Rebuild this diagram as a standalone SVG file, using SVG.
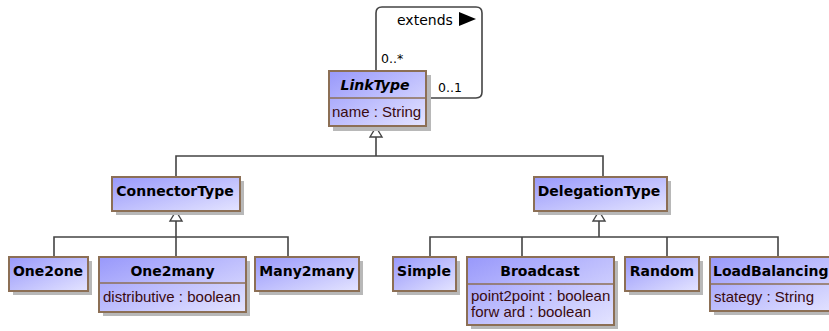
<svg xmlns="http://www.w3.org/2000/svg" width="829" height="331" viewBox="0 0 829 331">
<defs>
<linearGradient id="g" x1="0" y1="0" x2="1" y2="1">
<stop offset="0" stop-color="#9898fb"/>
<stop offset="1" stop-color="#e4e4ff"/>
</linearGradient>
</defs>
<style>
.sh{fill:#b8b8b8}
.box{fill:url(#g);stroke:#8c6f55;stroke-width:2}
.div{stroke:#8c6f55;stroke-width:1.5}
.hd{font-family:"DejaVu Sans",sans-serif;font-weight:bold;font-size:14px;fill:#000}
.at{font-family:"Liberation Sans",Arial,sans-serif;font-size:15px;fill:#3a0a10}
.lb{font-family:"DejaVu Sans",sans-serif;font-size:12.5px;fill:#000}
.ln{fill:none;stroke:#444;stroke-width:1.6}
.tri{fill:#fff;stroke:#444;stroke-width:1.4}
</style>
<g id="connectors">
<path class="ln" d="M376,70 V13 Q376,7 382,7 H476 Q482,7 482,13 V92 Q482,98 476,98 H427"/>
<text class="lb" x="397" y="25" style="font-size:14px">extends</text>
<path d="M459,12 L476,19 L459,26 Z" fill="#000"/>
<text class="lb" x="381" y="63">0..*</text>
<text class="lb" x="438" y="92">0..1</text>
<path class="ln" d="M176,177 V156 H603 V177"/>
<path class="ln" d="M376,156 V137"/>
<path class="tri" d="M376,127 L382,137 L370,137 Z"/>
<path class="ln" d="M54,257 V237 H288 V257"/>
<path class="ln" d="M176,257 V221"/>
<path class="tri" d="M176,211 L182,221 L170,221 Z"/>
<path class="ln" d="M430,257 V237 H778 V257 M522,237 V257 M667,237 V257"/>
<path class="ln" d="M599,237 V221"/>
<path class="tri" d="M599,211 L605,221 L593,221 Z"/>
</g>
<g id="LinkType">
<rect class="sh" x="333" y="75" width="98" height="56"/>
<rect class="box" x="329" y="71" width="97" height="55"/>
<line class="div" x1="329" y1="98" x2="426" y2="98"/>
<text class="hd" x="375" y="90" text-anchor="middle" font-style="italic">LinkType</text>
<text class="at" x="332" y="117">name : String</text>
</g>
<g id="ConnectorType">
<rect class="sh" x="116" y="181" width="128" height="34"/>
<rect class="box" x="112" y="177" width="128" height="34"/>
<text class="hd" x="175" y="196" text-anchor="middle">ConnectorType</text>
</g>
<g id="DelegationType">
<rect class="sh" x="538" y="181" width="133" height="34"/>
<rect class="box" x="534" y="177" width="133" height="34"/>
<text class="hd" x="599" y="196" text-anchor="middle">DelegationType</text>
</g>
<g id="One2one">
<rect class="sh" x="13" y="261" width="79" height="34"/>
<rect class="box" x="9" y="257" width="79" height="34"/>
<text class="hd" x="48" y="276" text-anchor="middle">One2one</text>
</g>
<g id="One2many">
<rect class="sh" x="103" y="261" width="147" height="55"/>
<rect class="box" x="99" y="257" width="147" height="55"/>
<line class="div" x1="99" y1="283" x2="246" y2="283"/>
<text class="hd" x="172.5" y="276" text-anchor="middle">One2many</text>
<text class="at" x="103" y="302">distributive : boolean</text>
</g>
<g id="Many2many">
<rect class="sh" x="259" y="261" width="104" height="34"/>
<rect class="box" x="255" y="257" width="104" height="34"/>
<text class="hd" x="307" y="276" text-anchor="middle">Many2many</text>
</g>
<g id="Simple">
<rect class="sh" x="397" y="261" width="63" height="34"/>
<rect class="box" x="393" y="257" width="63" height="34"/>
<text class="hd" x="424" y="276" text-anchor="middle">Simple</text>
</g>
<g id="Broadcast">
<rect class="sh" x="471" y="261" width="147" height="68"/>
<rect class="box" x="467" y="257" width="147" height="68"/>
<line class="div" x1="467" y1="284" x2="614" y2="284"/>
<text class="hd" x="540" y="276" text-anchor="middle">Broadcast</text>
<text class="at" x="471" y="301">point2point : boolean</text>
<text class="at" x="471" y="317">forw ard : boolean</text>
</g>
<g id="Random">
<rect class="sh" x="629" y="261" width="74" height="34"/>
<rect class="box" x="625" y="257" width="74" height="34"/>
<text class="hd" x="662" y="276" text-anchor="middle">Random</text>
</g>
<g id="LoadBalancing">
<rect class="sh" x="714" y="261" width="130" height="54"/>
<rect class="box" x="710" y="257" width="130" height="54"/>
<line class="div" x1="710" y1="284" x2="840" y2="284"/>
<text class="hd" x="713" y="276">LoadBalancing</text>
<text class="at" x="714" y="302">stategy : String</text>
</g>
</svg>
